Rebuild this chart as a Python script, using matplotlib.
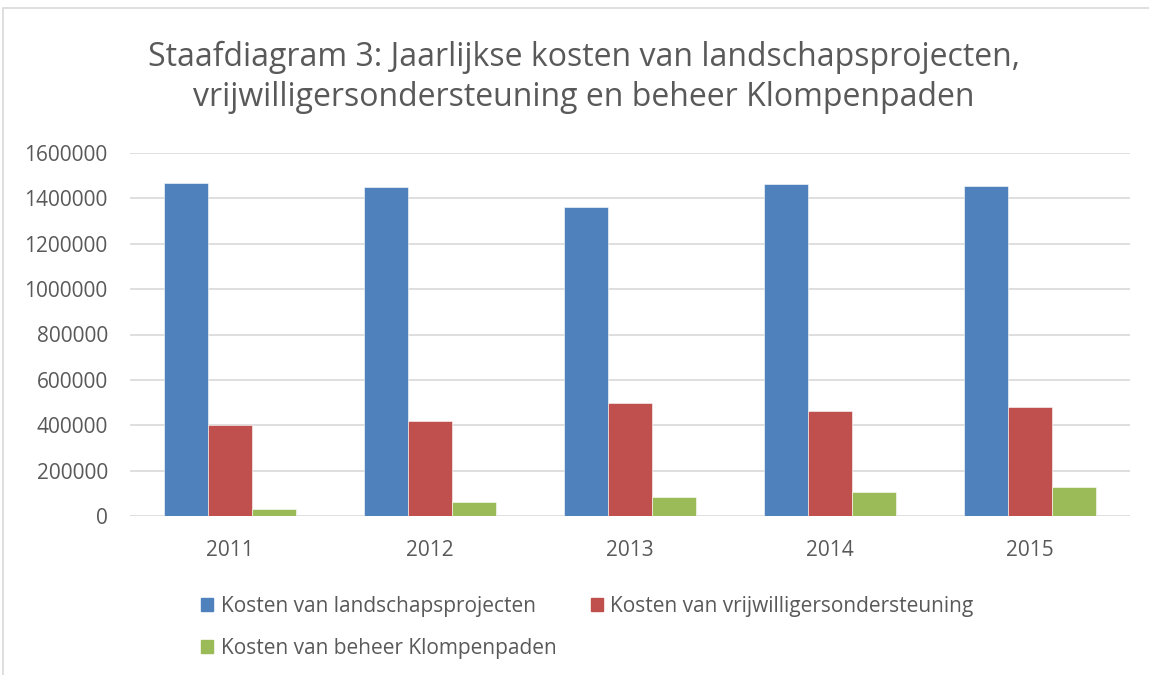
import numpy as np
import matplotlib.pyplot as plt
from matplotlib.patches import Rectangle, Patch

# Gegevens
jaren = ['2011', '2012', '2013', '2014', '2015']
landschap = [1469000, 1449000, 1362000, 1463000, 1453000]
vrijwilligers = [402000, 417000, 498000, 464000, 480000]
klompenpaden = [32000, 60000, 84000, 107000, 128000]
reeksen = ['Kosten van landschapsprojecten',
           'Kosten van vrijwilligersondersteuning',
           'Kosten van beheer Klompenpaden']
kleuren = ['#4F81BD', '#C0504D', '#9BBB59']
yticks = [0, 200000, 400000, 600000, 800000, 1000000, 1200000, 1400000, 1600000]

plt.rcParams['font.family'] = ['Open Sans', 'DejaVu Sans']
tekst = '#595959'

fig = plt.figure(figsize=(11.49, 6.75), dpi=100)
# Rand van het diagramgebied
fig.patches.append(Rectangle((3 / 1149, -0.1), 1.2, 1.1 - 8 / 675, transform=fig.transFigure,
                             fill=False, edgecolor='#D9D9D9', linewidth=1.2))

ax = fig.add_axes([130 / 1149, 159 / 675, 1000 / 1149, 363 / 675])
x = np.arange(len(jaren))
breedte = 0.22
for i, (waarden, naam, kleur) in enumerate(zip([landschap, vrijwilligers, klompenpaden], reeksen, kleuren)):
    ax.bar(x + (i - 1) * breedte, waarden, breedte, color=kleur, label=naam,
           edgecolor='white', linewidth=0.4, zorder=3)

ax.set_xlim(-0.5, len(jaren) - 0.5)
ax.set_ylim(0, 1600000)
ax.set_yticks(yticks)
ax.set_yticklabels([str(v) for v in yticks])
ax.set_xticks(x)
ax.set_xticklabels(jaren)
ax.grid(axis='y', color='#D9D9D9', linewidth=1.2, zorder=0)
for s in ax.spines.values():
    s.set_visible(False)
ax.tick_params(length=0, labelsize=15, colors=tekst)
ax.tick_params(axis='x', pad=17)
ax.tick_params(axis='y', pad=16)

fig.text(0.508, 0.885, 'Staafdiagram 3: Jaarlijkse kosten van landschapsprojecten,\n'
         'vrijwilligersondersteuning en beheer Klompenpaden',
         ha='center', va='center', fontsize=23, color=tekst, linespacing=1.3)

handles = [Patch(color=k) for k in kleuren]
volg = [0, 2, 1]
fig.legend([handles[i] for i in volg], [reeksen[i] for i in volg], ncol=2,
           loc='upper left', bbox_to_anchor=(182 / 1149, 1 - 577 / 675),
           frameon=False, fontsize=15, labelcolor=tekst, handlelength=0.6,
           handleheight=0.6, handletextpad=0.35, columnspacing=1.65, labelspacing=1.0)

fig.savefig('out.png', dpi=100)
